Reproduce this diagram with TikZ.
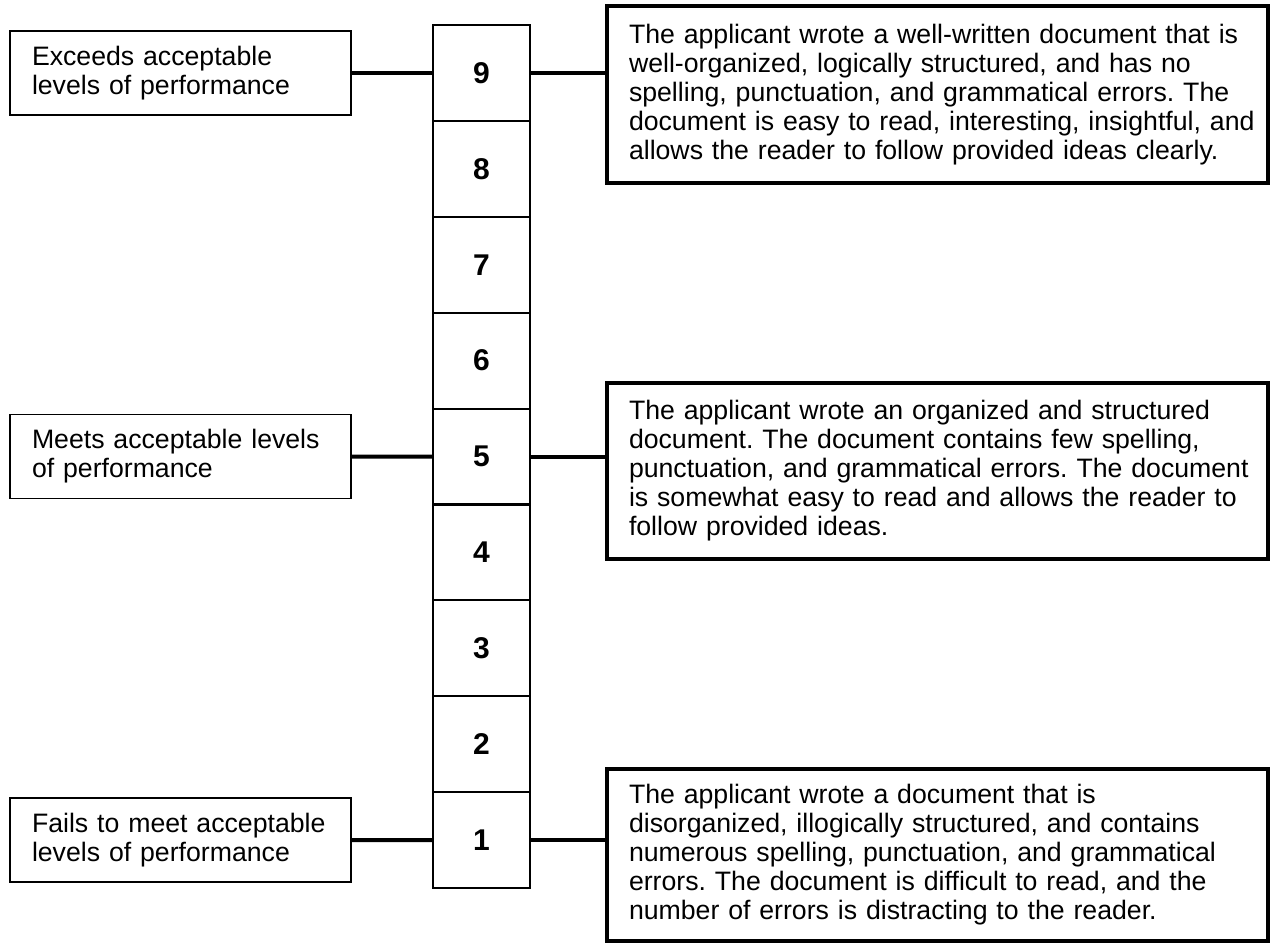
\documentclass[tikz,border=0pt]{standalone}
\usepackage{fontspec}
\setmainfont{Liberation Sans}
\begin{document}
\frenchspacing
\begin{tikzpicture}[x=0.75pt,y=-0.75pt,
  cell/.style={draw, line width=1.6pt, minimum width=72.75pt, minimum height=71.9pt, inner sep=0pt,
    font=\fontsize{22.5}{26}\selectfont\bfseries},
  lbox/.style={draw, line width=1.3pt, minimum height=63pt, text width=222.75pt, inner xsep=16.5pt,
    inner ysep=0pt, align=left, font=\fontsize{20}{21.75}\selectfont},
  rbox/.style={draw, line width=2.8pt, text width=462.75pt, inner xsep=16.5pt, inner ysep=0pt,
    align=left, font=\fontsize{20}{21.75}\selectfont},
  conn/.style={line width=3pt}]
\useasboundingbox (0,0) rectangle (1272,944);
\foreach \n [count=\i from 0] in {9,8,7,6,5,4,3,2,1}
  \node[cell] (c\n) at (481.5,{72.95+95.9*\i}) {\n};
\node[lbox] (l9) at (180.5,72.95) {Exceeds acceptable\\levels of performance};
\node[lbox] (l5) at (180.5,456.55) {Meets acceptable levels\\of performance};
\node[lbox] (l1) at (180.5,840.15) {Fails to meet acceptable\\levels of performance};
\node[rbox, minimum height=132.75pt] (r9) at (937.5,94.5) {\mbox{The applicant wrote a well-written document that is}\\\mbox{well-organized, logically structured, and has no}\\\mbox{spelling, punctuation, and grammatical errors. The}\\\mbox{document is easy to read, interesting, insightful, and}\\\mbox{allows the reader to follow provided ideas clearly.}};
\node[rbox, minimum height=132pt] (r5) at (937.5,471) {\mbox{The applicant wrote an organized and structured}\\\mbox{document. The document contains few spelling,}\\\mbox{punctuation, and grammatical errors. The document}\\\mbox{is somewhat easy to read and allows the reader to}\\\mbox{follow provided ideas.}};
\node[rbox, minimum height=129pt] (r1) at (937.5,855) {\mbox{The applicant wrote a document that is}\\\mbox{disorganized, illogically structured, and contains}\\\mbox{numerous spelling, punctuation, and grammatical}\\\mbox{errors. The document is difficult to read, and the}\\\mbox{number of errors is distracting to the reader.}};
\foreach \n in {9,5,1}{
  \draw[conn] (l\n.east) -- (c\n.west);
  \draw[conn] (c\n.east) -- (c\n.east -| r\n.west);
}
\end{tikzpicture}
\end{document}
